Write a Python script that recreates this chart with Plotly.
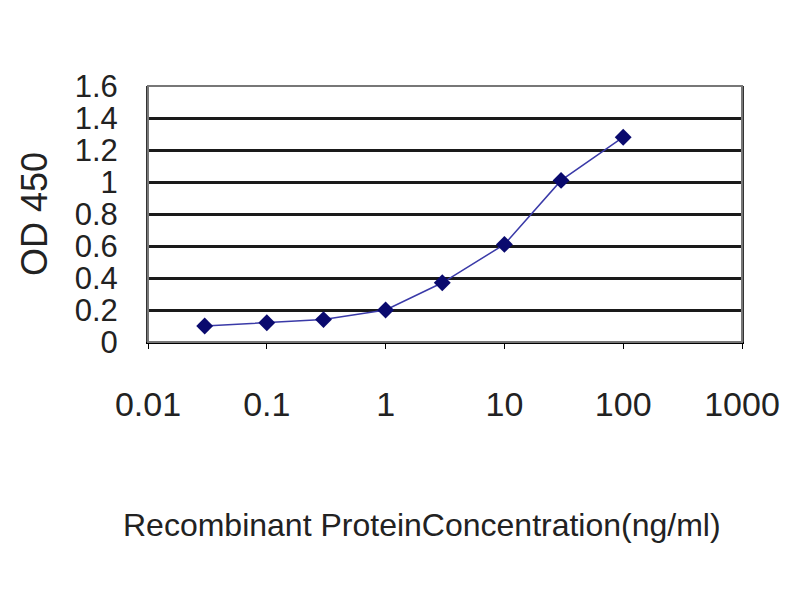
import plotly.graph_objects as go

# Data
concentration = [0.03, 0.1, 0.3, 1, 3, 10, 30, 100]  # ng/ml
od450 = [0.10, 0.12, 0.14, 0.20, 0.37, 0.61, 1.01, 1.28]

x_ticks = [0.01, 0.1, 1, 10, 100, 1000]
x_ticktext = ["0.01", "0.1", "1", "10", "100", "1000"]
y_ticks = [0, 0.2, 0.4, 0.6, 0.8, 1.0, 1.2, 1.4, 1.6]
y_ticktext = ["0", "0.2", "0.4", "0.6", "0.8", "1", "1.2", "1.4", "1.6"]

font = "Liberation Sans, Arial, sans-serif"

fig = go.Figure()
fig.add_trace(go.Scatter(
    x=concentration, y=od450,
    mode="lines+markers", showlegend=False,
    line=dict(color="#3a3aa8", width=1.5),
    marker=dict(symbol="diamond", size=13, color="#0a0a6e"),
))

fig.update_xaxes(
    type="log", range=[-2, 3], automargin=False,
    tickvals=x_ticks, ticktext=x_ticktext,
    ticks="outside", ticklen=5, tickcolor="black",
    ticklabelstandoff=26,
    showgrid=False, zeroline=False,
    showline=True, linecolor="black", linewidth=2, mirror=False,
    tickfont=dict(family=font, size=34, color="#222"),
)
fig.update_yaxes(
    range=[0, 1.6], automargin=False,
    tickvals=y_ticks, ticktext=y_ticktext,
    ticks="", ticklabelstandoff=22,
    showgrid=True, gridcolor="#1a1a1a", gridwidth=2.5,
    zeroline=False,
    showline=True, linecolor="#333", linewidth=2, mirror=True,
    tickfont=dict(family=font, size=31, color="#222"),
    title=dict(text="OD 450", font=dict(family=font, size=36, color="#222"),
               standoff=16),
)

# grey frame around the plot area
fig.add_shape(type="rect", xref="paper", yref="paper", x0=0, x1=1, y0=0, y1=1,
              line=dict(color="#777", width=2))

# x axis title sits left of the plot centre in the original
fig.add_annotation(
    text="Recombinant ProteinConcentration(ng/ml)",
    xref="paper", yref="paper", x=(422 - 148) / 594, y=-183 / 256,
    xanchor="center", yanchor="middle", showarrow=False,
    font=dict(family=font, size=32, color="#222"),
)

# page body adds 8px offset, margins compensate for it
fig.update_layout(
    width=800, height=600,
    margin=dict(l=140, r=66, t=78, b=266),
    plot_bgcolor="white", paper_bgcolor="white",
)

fig.write_html("out.html")
